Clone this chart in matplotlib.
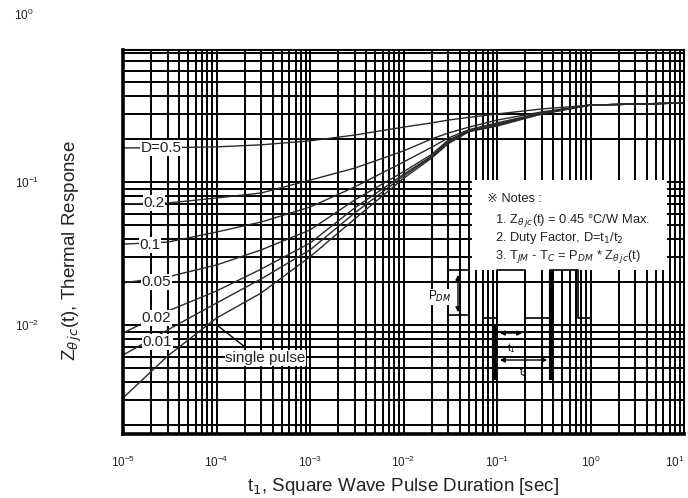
import numpy as np
import matplotlib.pyplot as plt
from matplotlib.patches import Rectangle

plt.rcParams['font.family'] = ['Liberation Sans', 'DejaVu Sans', 'Noto Sans CJK JP']

# pulse duration [sec]
t = [1e-5, 3e-5, 1e-4, 3e-4, 1e-3, 3e-3, 1e-2, 2e-2, 3e-2, 5e-2, 1e-1, 3e-1, 1, 10]
# thermal response per duty factor
z_d05 = [0.173, 0.174, 0.176, 0.182, 0.194, 0.213, 0.242, 0.259, 0.271, 0.283, 0.299, 0.324, 0.345, 0.357]
z_d02 = [0.0702, 0.0713, 0.0773, 0.0838, 0.103, 0.125, 0.165, 0.200, 0.220, 0.242, 0.271, 0.309, 0.345, 0.357]
z_d01 = [0.0368, 0.0380, 0.0447, 0.0525, 0.0668, 0.0923, 0.138, 0.175, 0.203, 0.232, 0.259, 0.304, 0.345, 0.357]
z_d005 = [0.0197, 0.0217, 0.0263, 0.0335, 0.0462, 0.0748, 0.118, 0.156, 0.196, 0.229, 0.254, 0.304, 0.345, 0.357]
z_d002 = [0.00879, 0.0125, 0.0173, 0.0246, 0.0374, 0.0658, 0.113, 0.152, 0.192, 0.227, 0.250, 0.304, 0.345, 0.357]
z_d001 = [0.00617, 0.00923, 0.01425, 0.0210, 0.0335, 0.0607, 0.110, 0.150, 0.189, 0.226, 0.250, 0.299, 0.345, 0.357]
z_single = [0.00309, 0.00607, 0.01119, 0.01674, 0.0300, 0.0551, 0.106, 0.147, 0.185, 0.225, 0.246, 0.299, 0.345, 0.357]

curves = [z_d05, z_d02, z_d01, z_d005, z_d002, z_d001, z_single]
labels = ['D=0.5', '0.2', '0.1', '0.05', '0.02', '0.01']
label_pos = [(0.068, 0.745), (0.055, 0.601), (0.048, 0.492), (0.060, 0.396), (0.059, 0.302), (0.061, 0.239)]

xticks = [1e-5, 1e-4, 1e-3, 1e-2, 1e-1, 1e0, 1e1]
xticklabels = [r'$\mathdefault{10^{-5}}$', r'$\mathdefault{10^{-4}}$', r'$\mathdefault{10^{-3}}$',
               r'$\mathdefault{10^{-2}}$', r'$\mathdefault{10^{-1}}$', r'$\mathdefault{10^{0}}$',
               r'$\mathdefault{10^{1}}$']

fig = plt.figure(figsize=(6.88, 4.98), dpi=100)
ax = fig.add_axes([0.1788, 0.1285, 0.8154, 0.7711])

for z in curves:
    ax.loglog(t, z, color='#2a2a2a', lw=1.0, zorder=2.5)

ax.set_xlim(1e-5, 1e1)
ax.set_ylim(10**-2.762, 10**-0.077)
ax.set_xticks(xticks, xticklabels)
ax.get_xticklabels()[-1].set_ha('right')
ax.grid(True, which='both', color='black', lw=1.4)
ax.tick_params(which='both', length=0, labelsize=8.5, labelcolor='#222')
ax.tick_params(axis='y', pad=60)
ax.tick_params(axis='x', pad=15)
for s in ['left', 'bottom']:
    ax.spines[s].set_linewidth(2.6)
for s in ['top', 'right']:
    ax.spines[s].set_linewidth(1.5)

fig.text(24/688, 1-15/498, r'$\mathdefault{10^{0}}$', ha='center', va='center', fontsize=8.5, color='#222')

# curve labels
for lab, (xx, yy) in zip(labels, label_pos):
    ax.text(xx, yy, lab, transform=ax.transAxes, ha='center', va='center', fontsize=11,
            color='#222', zorder=4, bbox=dict(fc='white', ec='none', pad=0.6))

ax.text(0.254, 0.198, 'single pulse', transform=ax.transAxes, ha='center', va='center', fontsize=11,
        color='#222', zorder=4, bbox=dict(fc='white', ec='none', pad=0.6))
ax.plot([0.1693, 0.2175], [0.2813, 0.2266], transform=ax.transAxes, color='black', lw=1.0, zorder=4)

# notes box
ax.add_patch(Rectangle((0.622, 0.427), 0.348, 0.234, transform=ax.transAxes, fc='white', ec='none', zorder=3))
notes = ['\u203b Notes :',
         r'1. Z$_{\theta\,jc}$(t) = 0.45 °C/W Max.',
         r'2. Duty Factor, D=t$_1$/t$_2$',
         r'3. T$_{JM}$ - T$_C$ = P$_{DM}$ * Z$_{\theta\,jc}$(t)']
note_xy = [(0.649, 0.612), (0.663, 0.557), (0.663, 0.510), (0.663, 0.461)]
for s, (xx, yy) in zip(notes, note_xy):
    ax.text(xx, yy, s, transform=ax.transAxes, ha='left', va='center', fontsize=9.3, color='#222', zorder=4)

# pulse waveform sketch
wx = [0.6417, 0.6667, 0.6667, 0.7166, 0.7166, 0.7611, 0.7611, 0.8111, 0.8111, 0.8324]
wy = [0.3021, 0.3021, 0.4271, 0.4271, 0.3021, 0.3021, 0.4271, 0.4271, 0.3021, 0.3021]
ax.plot(wx, wy, transform=ax.transAxes, color='black', lw=1.2, zorder=4)
ax.plot([0.6613, 0.6613], [0.2786, 0.1458], transform=ax.transAxes, color='black', lw=3, zorder=4)
ax.plot([0.7629, 0.7629], [0.4219, 0.1458], transform=ax.transAxes, color='black', lw=3, zorder=4)
arr = dict(arrowstyle='<|-|>', color='black', lw=1.0, mutation_scale=7)
ax.annotate('', xy=(0.6667, 0.2630), xytext=(0.7166, 0.2630), xycoords='axes fraction', arrowprops=arr, zorder=4)
ax.annotate('', xy=(0.6667, 0.1927), xytext=(0.7611, 0.1927), xycoords='axes fraction', arrowprops=arr, zorder=4)
ax.text(0.6916, 0.2240, r't$_1$', transform=ax.transAxes, ha='center', va='center', fontsize=7.5, zorder=4)
ax.text(0.7130, 0.1615, r't$_2$', transform=ax.transAxes, ha='center', va='center', fontsize=7.5, zorder=4)
ax.annotate('', xy=(0.5971, 0.4219), xytext=(0.5971, 0.3099), xycoords='axes fraction', arrowprops=arr, zorder=4)
ax.plot([0.5793, 0.6132], [0.4271, 0.4271], transform=ax.transAxes, color='black', lw=1.2, zorder=4)
ax.plot([0.5793, 0.6132], [0.3099, 0.3099], transform=ax.transAxes, color='black', lw=1.2, zorder=4)
ax.text(0.565, 0.357, r'P$_{DM}$', transform=ax.transAxes, ha='center', va='center', fontsize=8.5, zorder=4,
        bbox=dict(fc='white', ec='none', pad=0.5))

fig.text(403/688, 1-486/498, r't$_1$, Square Wave Pulse Duration [sec]', ha='center', va='center',
         fontsize=13.5, color='#222')
fig.text(72/688, 1-251/498, r'Z$_{\theta\,jc}$(t), Thermal Response', ha='center', va='center', rotation=90,
         fontsize=13.5, color='#222')

fig.savefig('out.png', dpi=100)
